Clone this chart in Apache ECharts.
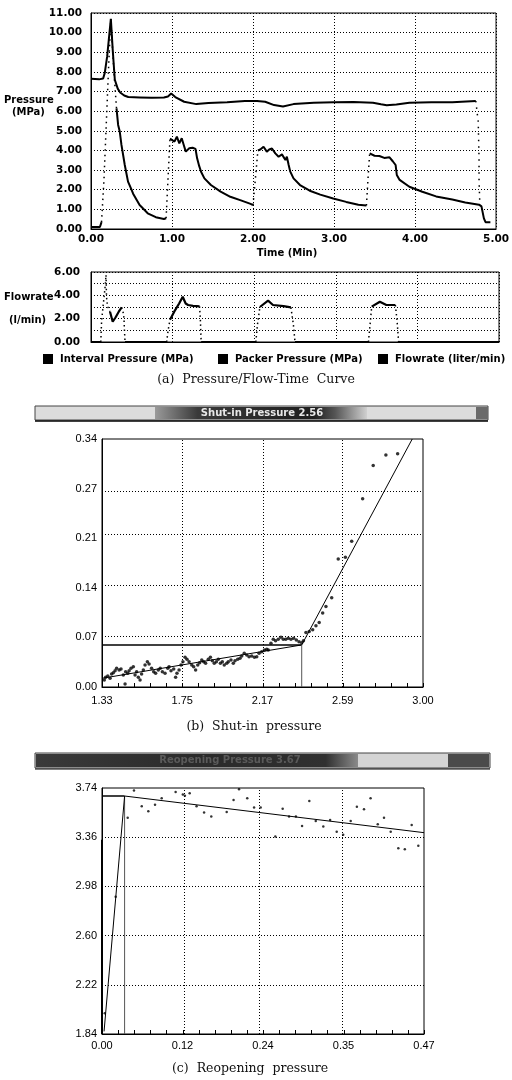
<!DOCTYPE html>
<html><head><meta charset="utf-8">
<script src="https://cdn.jsdelivr.net/npm/echarts@6/dist/echarts.min.js"></script>
<style>html,body{margin:0;padding:0;background:#fff}#c{width:512px;height:1080px}</style>
</head><body><div id="c"></div>
<script>
// ---------- Panel (a): pressure / flow vs time ----------
const timeTicks = [0, 1, 2, 3, 4, 5];
const packerMain = [[0,7.65],[0.1,7.62],[0.15,7.66],[0.17,7.95],[0.2,8.8],[0.245,10.7],[0.27,9.0],[0.294,7.6],[0.33,7.15],[0.36,6.95],[0.41,6.8],[0.46,6.72],[0.6,6.7],[0.75,6.68],[0.9,6.7],[0.95,6.75],[0.99,6.9],[1.04,6.72],[1.15,6.48],[1.3,6.36],[1.45,6.42],[1.68,6.45],[1.9,6.52],[2.05,6.52],[2.15,6.48],[2.26,6.31],[2.37,6.24],[2.5,6.36],[2.75,6.43],[3.0,6.45],[3.24,6.47],[3.48,6.43],[3.58,6.35],[3.65,6.3],[3.77,6.34],[3.93,6.43],[4.2,6.45],[4.46,6.45],[4.75,6.52]];
const packerDrop = [[4.75,6.52],[4.78,5.46],[4.79,3.6],[4.79,2.5],[4.8,1.25]];
const intervalStart = [[0,0.1],[0.11,0.1],[0.13,0.35]];
const intervalRise1 = [[0.13,0.35],[0.16,2.5],[0.19,5.5],[0.22,8.5],[0.245,10.7],[0.27,8.9],[0.29,7.6],[0.315,6.14]];
const intervalDecay1 = [[0.315,6.14],[0.335,5.3],[0.355,4.96],[0.376,4.28],[0.417,3.26],[0.457,2.41],[0.5,2.0],[0.52,1.8],[0.6,1.22],[0.7,0.8],[0.8,0.6],[0.9,0.51],[0.927,0.55]];
const intervalRise2 = [[0.927,0.55],[0.95,2.5],[0.975,4.6]];
const intervalDecay2 = [[0.975,4.6],[0.997,4.62],[1.03,4.45],[1.06,4.7],[1.09,4.36],[1.12,4.62],[1.145,4.28],[1.17,3.94],[1.213,4.11],[1.254,4.14],[1.29,4.08],[1.31,3.6],[1.336,3.2],[1.36,2.9],[1.4,2.58],[1.48,2.24],[1.6,1.9],[1.72,1.64],[1.85,1.46],[1.97,1.28],[2.0,1.22]];
const intervalRise3 = [[2.0,1.22],[2.03,2.6],[2.06,4.0]];
const intervalDecay3 = [[2.06,4.0],[2.09,4.05],[2.13,4.19],[2.17,3.94],[2.2,4.05],[2.234,4.1],[2.275,3.85],[2.316,3.68],[2.357,3.8],[2.4,3.51],[2.418,3.68],[2.44,3.26],[2.46,2.92],[2.5,2.58],[2.58,2.24],[2.7,1.95],[2.83,1.75],[2.99,1.55],[3.15,1.38],[3.3,1.24],[3.4,1.2]];
const intervalRise4 = [[3.4,1.2],[3.42,2.6],[3.44,3.85]];
const intervalDecay4 = [[3.44,3.85],[3.5,3.73],[3.56,3.72],[3.62,3.62],[3.685,3.65],[3.725,3.45],[3.76,3.26],[3.775,2.75],[3.81,2.5],[3.93,2.15],[4.09,1.9],[4.26,1.66],[4.46,1.5],[4.62,1.35],[4.79,1.24],[4.82,1.15],[4.85,0.54],[4.87,0.35],[4.93,0.35]];

const flowBase = [[[0,0],[0.12,0]],[[0.417,0],[0.927,0]],[[1.35,0],[2.02,0]],[[2.5,0],[3.4,0]],[[3.77,0],[5.0,0]]];
const flowSolid1 = [[0.233,2.6],[0.266,1.74],[0.3,2.1],[0.34,2.6],[0.376,2.97]];
const flowSolid2 = [[0.968,1.9],[1.02,2.6],[1.08,3.3],[1.124,3.88],[1.16,3.3],[1.19,3.17],[1.25,3.1],[1.295,3.08],[1.33,3.05]];
const flowSolid3 = [[2.07,3.0],[2.09,3.17],[2.17,3.54],[2.23,3.17],[2.36,3.08],[2.45,2.97]];
const flowSolid4 = [[3.44,3.03],[3.54,3.45],[3.62,3.17],[3.73,3.17]];
const flowDotted = [
  [[0.12,0],[0.13,1.8],[0.15,3.2],[0.17,4.5],[0.184,5.74],[0.19,3.88],[0.2,3.17],[0.215,2.8],[0.233,2.6]],
  [[0.376,2.97],[0.395,2.5],[0.404,2.03],[0.41,1.0],[0.417,0]],
  [[0.927,0],[0.945,1.0],[0.968,1.9]],
  [[1.33,3.05],[1.34,2.0],[1.35,0]],
  [[2.02,0],[2.04,1.5],[2.07,3.0]],
  [[2.45,2.97],[2.48,1.5],[2.5,0]],
  [[3.4,0],[3.42,1.5],[3.44,3.03]],
  [[3.73,3.17],[3.75,1.89],[3.77,0]]
];

// ---------- Panel (b): shut-in pressure ----------
const shutXLabels = ['1.33','1.75','2.17','2.59','3.00'];
const shutXRange = [1.33, 3.00];
const shutYLabels = ['0.00','0.07','0.14','0.21','0.27','0.34'];
const shutYRange = [0, 0.342];
const shutPoints = [[1.342,0.0096],[1.349,0.0133],[1.360,0.0152],[1.372,0.0119],[1.380,0.0179],[1.389,0.0198],[1.398,0.0225],[1.406,0.0257],[1.419,0.0234],[1.429,0.0248],[1.441,0.0165],[1.450,0.0041],[1.453,0.0211],[1.464,0.0188],[1.471,0.0225],[1.481,0.0257],[1.493,0.0280],[1.502,0.0165],[1.510,0.0211],[1.519,0.0133],[1.528,0.0096],[1.536,0.0179],[1.545,0.0234],[1.554,0.0303],[1.566,0.0349],[1.575,0.0317],[1.588,0.0257],[1.599,0.0211],[1.609,0.0188],[1.623,0.0234],[1.633,0.0257],[1.644,0.0211],[1.658,0.0188],[1.672,0.0257],[1.679,0.0280],[1.689,0.0225],[1.703,0.0248],[1.713,0.0133],[1.720,0.0188],[1.731,0.0234],[1.741,0.0303],[1.751,0.0349],[1.762,0.0409],[1.772,0.0381],[1.783,0.0349],[1.797,0.0303],[1.807,0.0280],[1.817,0.0234],[1.828,0.0303],[1.838,0.0335],[1.849,0.0372],[1.859,0.0349],[1.869,0.0326],[1.883,0.0381],[1.894,0.0409],[1.904,0.0363],[1.914,0.0326],[1.925,0.0349],[1.935,0.0381],[1.946,0.0326],[1.956,0.0349],[1.966,0.0303],[1.979,0.0326],[1.987,0.0349],[2.001,0.0372],[2.013,0.0326],[2.022,0.0363],[2.036,0.0381],[2.048,0.0395],[2.057,0.0427],[2.070,0.0464],[2.083,0.0441],[2.095,0.0418],[2.109,0.0427],[2.123,0.0409],[2.135,0.0418],[2.147,0.0464],[2.161,0.0487],[2.175,0.0510],[2.187,0.0519],[2.195,0.0510],[2.209,0.0602],[2.221,0.0657],[2.233,0.0639],[2.247,0.0657],[2.261,0.0685],[2.273,0.0657],[2.286,0.0657],[2.299,0.0671],[2.313,0.0657],[2.327,0.0671],[2.341,0.0648],[2.355,0.0625],[2.369,0.0611],[2.378,0.0639],[2.391,0.0753],[2.408,0.0767],[2.426,0.0790],[2.443,0.0845],[2.460,0.0890],[2.478,0.1020],[2.495,0.1110],[2.525,0.1230],[2.559,0.1765],[2.596,0.1790],[2.629,0.2010],[2.686,0.2597],[2.741,0.3056],[2.807,0.3200],[2.868,0.3217]];
const shutFitLow = [[1.33,0.012],[2.369,0.058]];
const shutLevel = [[1.33,0.058],[2.369,0.058]];
const shutVertical = [[2.369,0],[2.369,0.058]];
const shutFitHigh = [[2.369,0.058],[2.944,0.342]];

// ---------- Panel (c): reopening pressure ----------
const reopenXLabels = ['0.00','0.12','0.24','0.35','0.47'];
const reopenXRange = [0, 0.47];
const reopenYLabels = ['1.84','2.22','2.60','2.98','3.36','3.74'];
const reopenYRange = [1.84, 3.74];
const reopenPoints = [[0.004,2.0],[0.02,2.9],[0.0375,3.51],[0.0467,3.72],[0.058,3.60],[0.0676,3.56],[0.0774,3.61],[0.0871,3.66],[0.1075,3.71],[0.118,3.69],[0.121,3.68],[0.128,3.70],[0.138,3.60],[0.149,3.55],[0.1595,3.52],[0.182,3.555],[0.192,3.648],[0.2,3.73],[0.212,3.66],[0.222,3.59],[0.2316,3.59],[0.253,3.365],[0.2637,3.58],[0.273,3.52],[0.283,3.52],[0.292,3.447],[0.3026,3.64],[0.312,3.486],[0.323,3.442],[0.333,3.493],[0.3426,3.403],[0.352,3.378],[0.363,3.486],[0.372,3.596],[0.3824,3.576],[0.392,3.66],[0.4025,3.46],[0.4116,3.511],[0.4214,3.403],[0.4325,3.275],[0.442,3.267],[0.452,3.455],[0.4617,3.293]];
const reopenLevel = [[0,3.678],[0.033,3.678]];
const reopenFit = [[0.033,3.678],[0.47,3.395]];
const reopenVertical = [[0.033,1.84],[0.033,3.678]];
const reopenRise = [[0.003,1.86],[0.033,3.678]];
const reopenLeftEdge = [[0,1.84],[0,3.34]];

// number of minor tick steps along the bottom of panels (b) and (c)
const minorSteps = 20;

// ---------- helpers ----------
function evenly(range, n) {
  return Array.from({length: n}, (_, i) => i === 0 ? range[0] : (i === n - 1 ? range[1] : range[0] + i * (range[1] - range[0]) / (n - 1)));
}
function labelMapper(vals, labels) {
  return v => { const i = vals.findIndex(u => Math.abs(u - v) < 1e-6); return i >= 0 ? labels[i] : ''; };
}
const BOLD = {fontFamily: 'DejaVu Sans', fontWeight: 'bold', fontSize: 10.5, color: '#000'};
const REG = {fontFamily: 'Liberation Sans', fontSize: 11, color: '#000'};
const DOT = {color: '#000', width: 1, type: [1, 2]};

function line(name, data, xi, width, type, extra) {
  return Object.assign({type: 'line', name, data, xAxisIndex: xi, yAxisIndex: xi, symbol: 'none', silent: true,
    lineStyle: {color: '#000', width, type: type || 'solid'}, itemStyle: {color: '#000'}, z: 3}, extra || {});
}
// small inward tick marks along the bottom axis, placed through the axis scale
function minorTicks(xi, xRange, yMin) {
  return {type: 'custom', name: 'minor-ticks', xAxisIndex: xi, yAxisIndex: xi, silent: true, z: 5,
    data: evenly(xRange, minorSteps + 1).map(v => [v, yMin]),
    renderItem: (params, api) => {
      const p = api.coord([api.value(0), api.value(1)]);
      return {type: 'line', shape: {x1: Math.round(p[0]) + 0.5, y1: p[1], x2: Math.round(p[0]) + 0.5, y2: p[1] - 4},
        style: {stroke: '#000', lineWidth: 1}};
    }};
}

const sxMajor = evenly(shutXRange, shutXLabels.length);
const syMajor = evenly(shutYRange, shutYLabels.length);
const rxMajor = evenly(reopenXRange, reopenXLabels.length);
const ryMajor = evenly(reopenYRange, reopenYLabels.length);

function gridMarks(xs, ys) {
  return {symbol: 'none', silent: true, animation: false, label: {show: false}, lineStyle: DOT,
    data: xs.slice(1, -1).map(v => ({xAxis: v})).concat(ys.slice(1, -1).map(v => ({yAxis: v})))};
}

const series = [];
// panel a
series.push(line('Interval Pressure (MPa)', intervalStart, 0, 2));
[intervalDecay1, intervalDecay2, intervalDecay3, intervalDecay4].forEach(d => series.push(line('interval-solid', d, 0, 2)));
[intervalRise1, intervalRise2, intervalRise3, intervalRise4].forEach(d => series.push(line('interval-rise', d, 0, 1.5, [1.5, 4])));
series.push(line('Packer Pressure (MPa)', packerMain, 0, 2));
series.push(line('packer-drop', packerDrop, 0, 1.5, [1.5, 5]));
series.push(line('Flowrate (liter/min)', flowBase[0], 1, 2));
flowBase.slice(1).forEach(d => series.push(line('flow-base', d, 1, 2)));
[flowSolid1, flowSolid2, flowSolid3, flowSolid4].forEach(d => series.push(line('flow-solid', d, 1, 2.2)));
flowDotted.forEach(d => series.push(line('flow-dotted', d, 1, 1.5, [1.5, 3])));
// panel b
series.push({type: 'scatter', name: 'shut-pts', data: shutPoints, xAxisIndex: 2, yAxisIndex: 2, symbolSize: 3.5, silent: true,
  itemStyle: {color: '#000'}, markLine: gridMarks(sxMajor, syMajor), z: 4});
series.push(line('shut-fit-low', shutFitLow, 2, 1));
series.push(line('shut-level', shutLevel, 2, 1.5));
series.push(line('shut-vert', shutVertical, 2, 1, 'solid', {lineStyle: {color: '#555', width: 1}}));
series.push(line('shut-fit-high', shutFitHigh, 2, 1));
series.push(minorTicks(2, shutXRange, shutYRange[0]));
// panel c
series.push({type: 'scatter', name: 'reopen-pts', data: reopenPoints, xAxisIndex: 3, yAxisIndex: 3, symbolSize: 2.5, silent: true,
  itemStyle: {color: '#000'}, markLine: gridMarks(rxMajor, ryMajor), z: 4});
series.push(line('reopen-level', reopenLevel, 3, 1.5));
series.push(line('reopen-fit', reopenFit, 3, 1));
series.push(line('reopen-vert', reopenVertical, 3, 1, 'solid', {lineStyle: {color: '#555', width: 1}}));
series.push(line('reopen-rise', reopenRise, 3, 1));
series.push(line('reopen-left', reopenLeftEdge, 3, 2));
series.push(minorTicks(3, reopenXRange, reopenYRange[0]));

const gridBase = {show: true, borderColor: '#000', borderWidth: 1, containLabel: false};
const legendBase = {orient: 'horizontal', padding: 0, itemWidth: 10, itemHeight: 10, icon: 'rect', itemGap: 5,
  textStyle: {fontFamily: 'DejaVu Sans', fontWeight: 'bold', fontSize: 10, color: '#000', padding: [0, 0, 0, 2]}, selectedMode: false};

function valAxisB(gi, range, major, labels, margin) {
  return {type: 'value', gridIndex: gi, min: range[0], max: range[1],
    axisLine: {show: true, lineStyle: {color: '#000'}},
    axisTick: {show: false},
    axisLabel: Object.assign({customValues: major, formatter: labelMapper(major, labels), margin}, REG),
    splitLine: {show: false}};
}
function valAxisBY(gi, range, major, labels) {
  return {type: 'value', gridIndex: gi, min: range[0], max: range[1],
    axisLine: {show: true, lineStyle: {color: '#000'}},
    axisTick: {show: false},
    axisLabel: Object.assign({customValues: major, formatter: labelMapper(major, labels), margin: 5}, REG),
    splitLine: {show: false}};
}

const option = {
  animation: false,
  backgroundColor: '#fff',
  grid: [
    Object.assign({left: 91, top: 13, width: 408, height: 216}, gridBase),
    Object.assign({left: 91, top: 272, width: 408, height: 70}, gridBase),
    Object.assign({left: 102, top: 439, width: 321, height: 248}, gridBase),
    Object.assign({left: 102, top: 788, width: 322, height: 246}, gridBase)
  ],
  xAxis: [
    {type: 'value', gridIndex: 0, min: timeTicks[0], max: timeTicks[timeTicks.length - 1], interval: 1,
      axisLine: {show: true, lineStyle: {color: '#000'}}, axisTick: {show: false},
      axisLabel: Object.assign({formatter: v => v.toFixed(2), margin: 5}, BOLD), splitLine: {show: true, lineStyle: DOT}},
    {type: 'value', gridIndex: 1, min: timeTicks[0], max: timeTicks[timeTicks.length - 1], interval: 1,
      axisLine: {show: true, lineStyle: {color: '#000'}}, axisTick: {show: false}, axisLabel: {show: false},
      splitLine: {show: true, lineStyle: DOT}},
    valAxisB(2, shutXRange, sxMajor, shutXLabels, 8),
    valAxisB(3, reopenXRange, rxMajor, reopenXLabels, 6)
  ],
  yAxis: [
    {type: 'value', gridIndex: 0, min: 0, max: 11, interval: 1,
      axisLine: {show: true, lineStyle: {color: '#000'}}, axisTick: {show: false},
      axisLabel: Object.assign({formatter: v => v.toFixed(2), margin: 9}, BOLD), splitLine: {show: true, lineStyle: DOT}},
    {type: 'value', gridIndex: 1, min: 0, max: 6, interval: 1,
      axisLine: {show: true, lineStyle: {color: '#000'}}, axisTick: {show: false},
      axisLabel: Object.assign({formatter: v => (Math.round(v) % 2 === 0 ? v.toFixed(2) : ''), margin: 11}, BOLD),
      splitLine: {show: true, lineStyle: DOT}},
    valAxisBY(2, shutYRange, syMajor, shutYLabels),
    valAxisBY(3, reopenYRange, ryMajor, reopenYLabels)
  ],
  legend: [
    Object.assign({left: 43, top: 354, data: ['Interval Pressure (MPa)']}, legendBase),
    Object.assign({left: 218, top: 354, data: ['Packer Pressure (MPa)']}, legendBase),
    Object.assign({left: 378, top: 354, data: ['Flowrate (liter/min)']}, legendBase)
  ],
  series,
  graphic: [
    // axis names panel a
    {type: 'text', left: 4, top: 95, style: {text: 'Pressure', font: 'bold 10px "DejaVu Sans"', fill: '#000'}},
    {type: 'text', left: 12, top: 107, style: {text: '(MPa)', font: 'bold 10px "DejaVu Sans"', fill: '#000'}},
    {type: 'text', x: 287, y: 253, style: {text: 'Time (Min)', font: 'bold 10px "DejaVu Sans"', fill: '#000', align: 'center', verticalAlign: 'middle'}},
    {type: 'text', left: 4, top: 292, style: {text: 'Flowrate', font: 'bold 10px "DejaVu Sans"', fill: '#000'}},
    {type: 'text', left: 9, top: 315, style: {text: '(l/min)', font: 'bold 10px "DejaVu Sans"', fill: '#000'}},
    // captions
    {type: 'text', x: 256, y: 380, style: {text: '(a)  Pressure/Flow-Time  Curve', font: '12.5px "DejaVu Serif"', fill: '#111', align: 'center', verticalAlign: 'middle'}},
    {type: 'text', x: 254, y: 727, style: {text: '(b)  Shut-in  pressure', font: '12.5px "DejaVu Serif"', fill: '#111', align: 'center', verticalAlign: 'middle'}},
    {type: 'text', x: 250, y: 1069, style: {text: '(c)  Reopening  pressure', font: '12.5px "DejaVu Serif"', fill: '#111', align: 'center', verticalAlign: 'middle'}},
    // title bar (b)
    {type: 'rect', shape: {x: 35, y: 406, width: 453, height: 14}, style: {fill: '#dcdcdc', stroke: '#444', lineWidth: 1}},
    {type: 'rect', shape: {x: 155, y: 407, width: 212, height: 12}, style: {fill: {type: 'linear', x: 0, y: 0, x2: 1, y2: 0,
      colorStops: [{offset: 0, color: '#9a9a9a'}, {offset: 0.2, color: '#3a3a3a'}, {offset: 0.75, color: '#1e1e1e'}, {offset: 0.85, color: '#555'}, {offset: 1, color: '#d0d0d0'}]}}},
    {type: 'rect', shape: {x: 476, y: 407, width: 12, height: 12}, style: {fill: '#6a6a6a'}},
    {type: 'line', shape: {x1: 35, y1: 421, x2: 488, y2: 421}, style: {stroke: '#000', lineWidth: 1.5}},
    {type: 'text', x: 262, y: 413.5, style: {text: 'Shut-in Pressure 2.56', font: 'bold 10px "DejaVu Sans"', fill: '#e8e8e8', align: 'center', verticalAlign: 'middle'}},
    // title bar (c)
    {type: 'rect', shape: {x: 35, y: 753, width: 455, height: 15}, style: {fill: '#d4d4d4', stroke: '#444', lineWidth: 1}},
    {type: 'rect', shape: {x: 36, y: 754, width: 322, height: 13}, style: {fill: {type: 'linear', x: 0, y: 0, x2: 1, y2: 0,
      colorStops: [{offset: 0, color: '#3a3a3a'}, {offset: 0.5, color: '#2a2a2a'}, {offset: 0.9, color: '#303030'}, {offset: 1, color: '#8a8a8a'}]}}},
    {type: 'rect', shape: {x: 448, y: 754, width: 41, height: 13}, style: {fill: '#4a4a4a'}},
    {type: 'line', shape: {x1: 35, y1: 769, x2: 490, y2: 769}, style: {stroke: '#000', lineWidth: 1}},
    {type: 'text', x: 230, y: 760.5, style: {text: 'Reopening Pressure 3.67', font: 'bold 10px "DejaVu Sans"', fill: '#5a5a5a', align: 'center', verticalAlign: 'middle'}}
  ]
};

const chart = echarts.init(document.getElementById('c'), null, {renderer: 'canvas', width: 512, height: 1080});
chart.setOption(option);
</script></body></html>
